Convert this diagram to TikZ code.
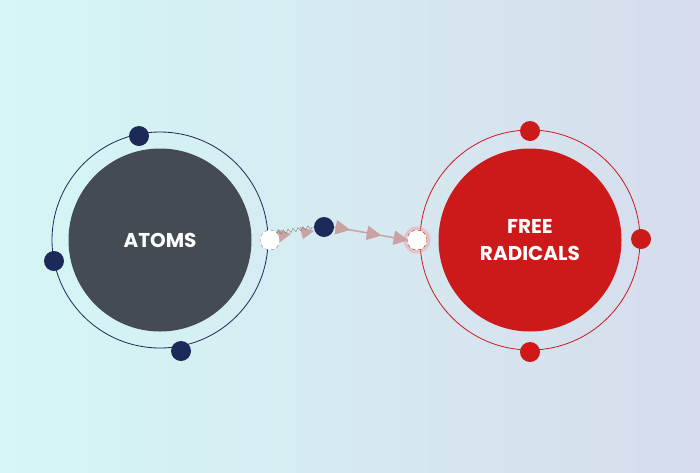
\documentclass[tikz,border=0pt]{standalone}
\usepackage{fontspec}
\setmainfont{Poppins}
\usetikzlibrary{decorations.pathmorphing,decorations.markings}
\definecolor{bgl}{HTML}{D5F7F5}
\definecolor{bgr}{HTML}{D6DCEC}
\definecolor{navy}{HTML}{1C2A5A}
\definecolor{slate}{HTML}{454B53}
\definecolor{rred}{HTML}{CC1A1A}
\definecolor{arr}{HTML}{C9A3A3}
\tikzset{dot/.style={circle,fill=#1,minimum size=20pt,inner sep=0},
bigc/.style={circle,fill=#1,minimum size=183pt,inner sep=0,text=white,font=\bfseries\fontsize{20}{27}\selectfont,align=center},
tri/.style={postaction={decorate},decoration={markings,mark=at position #1 with {\fill (-7pt,-7pt)--(7pt,0)--(-7pt,7pt)--cycle;}}}}
\begin{document}
\begin{tikzpicture}[x=1pt,y=-1pt]
\shade[left color=bgl,right color=bgr] (0,0) rectangle (700,472);
\useasboundingbox (0,0) rectangle (700,472);
\draw[navy,line width=0.8pt] (160,240) circle (108);
\draw[rred,line width=0.8pt] (530,240) circle (110);
\node[bigc=slate] (atoms) at (160,240) {ATOMS};
\node[bigc=rred] (fr) at (530,240) {FREE\\RADICALS};
\node[dot=navy] (a1) at (139,136) {};
\node[dot=navy] (a2) at (54,261) {};
\node[dot=navy] (a3) at (181,351) {};
\node[dot=rred] (r1) at (530,131) {};
\node[dot=rred] (r2) at (641,239) {};
\node[dot=rred] (r3) at (530,352) {};
\node[circle,fill=white,draw=gray,dashed,minimum size=20pt,inner sep=0] (w1) at (270,240) {};
\node[circle,fill=rred!40,opacity=0.5,minimum size=27pt,inner sep=0] at (417,240) {};
\node[circle,fill=white,draw=rred,dashed,minimum size=20pt,inner sep=0] (w2) at (417,240) {};
\node[dot=navy] (m) at (324,227) {};
\fill[arr] (277,229)--(291,234)--(280,242)--cycle;
\fill[arr] (300,227)--(314,231)--(303,239)--cycle;
\draw[gray,decorate,decoration={zigzag,amplitude=2pt,segment length=5pt}] (w1.north east) -- (m.west);
\draw[arr,line width=1.5pt,tri=0.12,tri=0.55,tri=0.92] (m.east) -- (w2.west);
\end{tikzpicture}
\end{document}
